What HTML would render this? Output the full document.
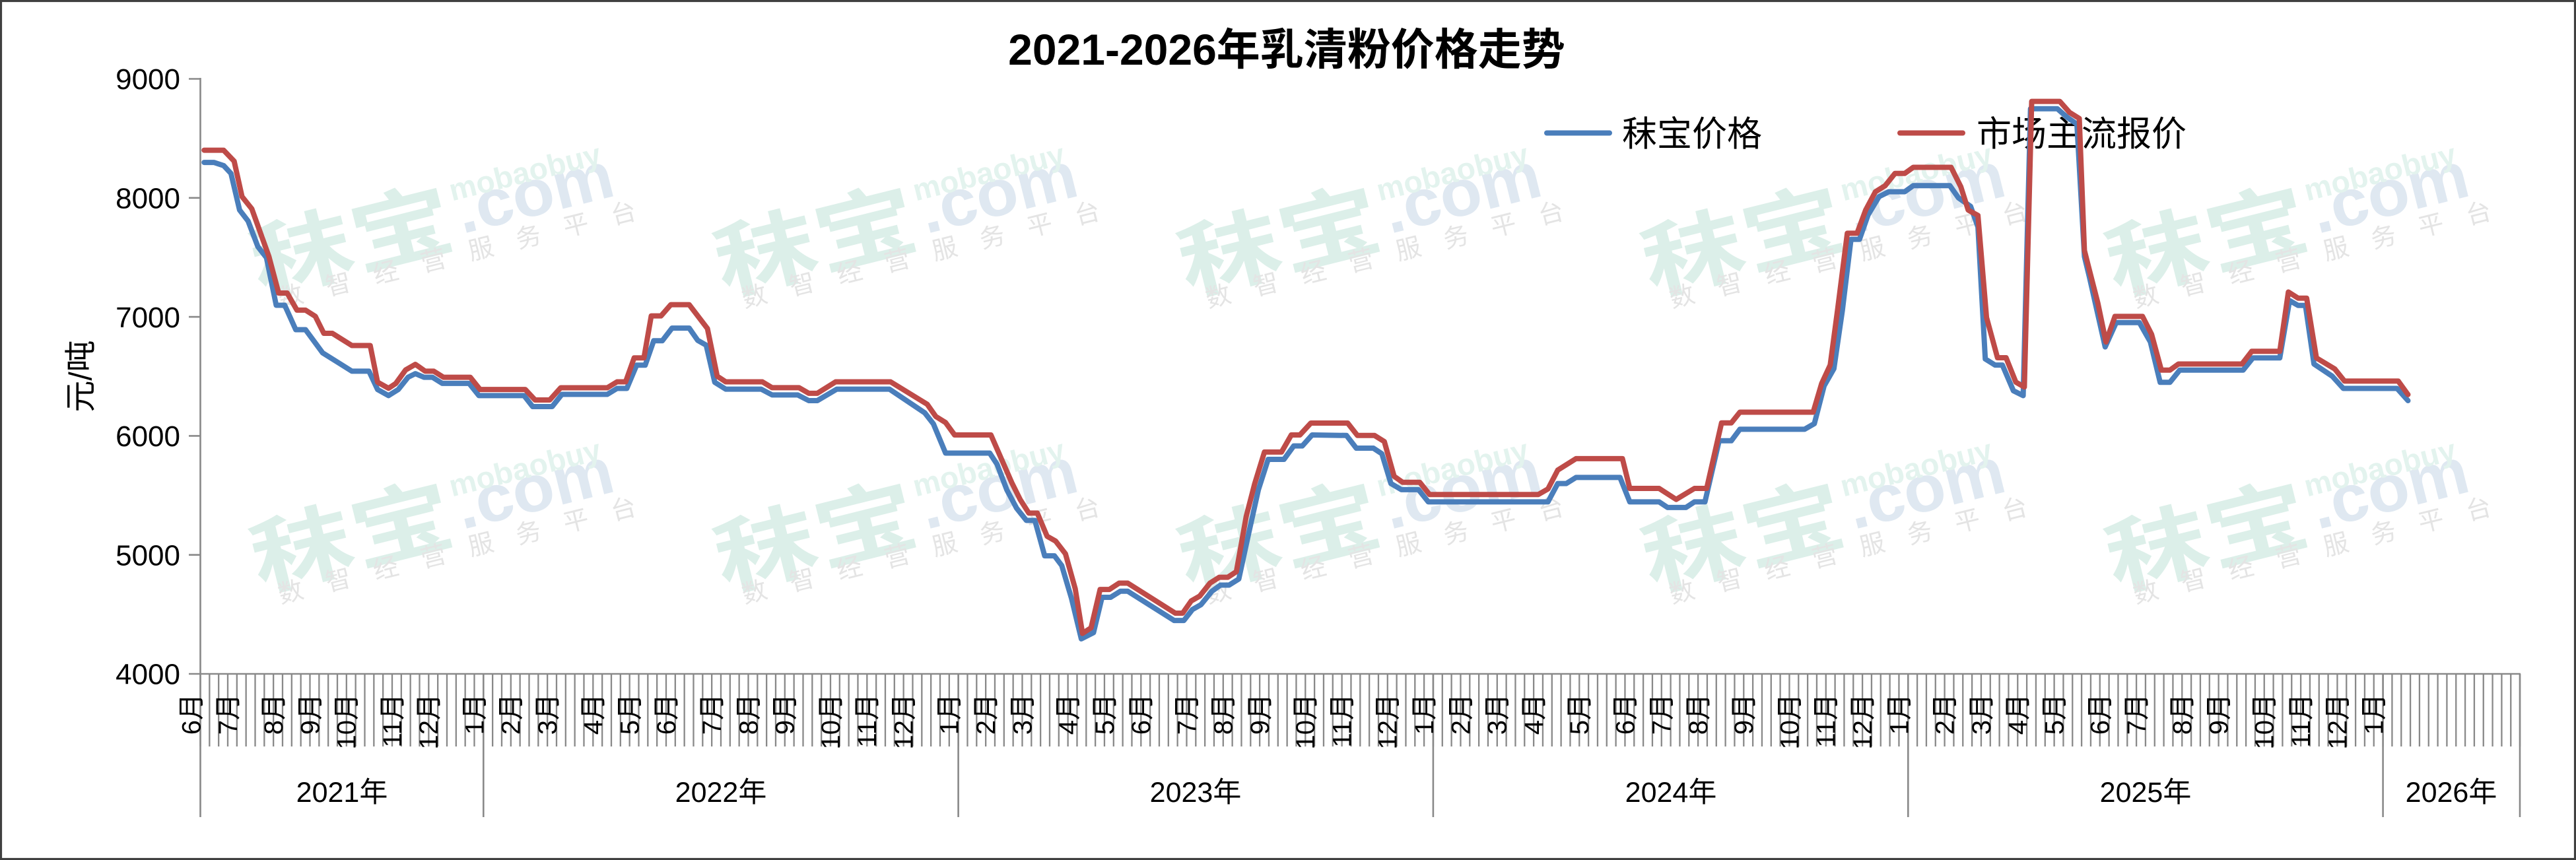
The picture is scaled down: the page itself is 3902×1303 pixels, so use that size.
<!DOCTYPE html>
<html><head><meta charset="utf-8"><style>
html,body{margin:0;padding:0;background:#fff;}
svg{display:block;}
text{font-family:"Liberation Sans","Noto Sans CJK SC",sans-serif;}
</style></head><body>
<svg xmlns="http://www.w3.org/2000/svg" width="3902" height="1303" viewBox="0 0 3902 1303">
<rect x="0" y="0" width="3902" height="1303" fill="#fff"/>

<!-- watermarks -->
<g id="wms">
<g transform="translate(513.5,370) rotate(-14)"><text x="20" y="45" font-size="125" font-weight="bold" fill="#dcefe9" text-anchor="middle" textLength="310" lengthAdjust="spacingAndGlyphs">秣宝</text><text x="185" y="30" font-size="100" font-weight="bold" fill="#dfe8f1" textLength="242" lengthAdjust="spacingAndGlyphs">.com</text><text x="182" y="-22" font-size="46" font-weight="bold" fill="#e3f3ee" textLength="235" lengthAdjust="spacingAndGlyphs">mobaobuy</text><g font-size="38" fill="#e4e4e4" text-anchor="middle"><text x="-90" y="72">数</text><text x="-15.8" y="72">智</text><text x="58.4" y="72">经</text><text x="132.6" y="72">营</text><text x="206.8" y="72">服</text><text x="281" y="72">务</text><text x="355.2" y="72">平</text><text x="429.4" y="72">台</text></g></g>
<g transform="translate(1216,370) rotate(-14)"><text x="20" y="45" font-size="125" font-weight="bold" fill="#dcefe9" text-anchor="middle" textLength="310" lengthAdjust="spacingAndGlyphs">秣宝</text><text x="185" y="30" font-size="100" font-weight="bold" fill="#dfe8f1" textLength="242" lengthAdjust="spacingAndGlyphs">.com</text><text x="182" y="-22" font-size="46" font-weight="bold" fill="#e3f3ee" textLength="235" lengthAdjust="spacingAndGlyphs">mobaobuy</text><g font-size="38" fill="#e4e4e4" text-anchor="middle"><text x="-90" y="72">数</text><text x="-15.8" y="72">智</text><text x="58.4" y="72">经</text><text x="132.6" y="72">营</text><text x="206.8" y="72">服</text><text x="281" y="72">务</text><text x="355.2" y="72">平</text><text x="429.4" y="72">台</text></g></g>
<g transform="translate(1918.5,370) rotate(-14)"><text x="20" y="45" font-size="125" font-weight="bold" fill="#dcefe9" text-anchor="middle" textLength="310" lengthAdjust="spacingAndGlyphs">秣宝</text><text x="185" y="30" font-size="100" font-weight="bold" fill="#dfe8f1" textLength="242" lengthAdjust="spacingAndGlyphs">.com</text><text x="182" y="-22" font-size="46" font-weight="bold" fill="#e3f3ee" textLength="235" lengthAdjust="spacingAndGlyphs">mobaobuy</text><g font-size="38" fill="#e4e4e4" text-anchor="middle"><text x="-90" y="72">数</text><text x="-15.8" y="72">智</text><text x="58.4" y="72">经</text><text x="132.6" y="72">营</text><text x="206.8" y="72">服</text><text x="281" y="72">务</text><text x="355.2" y="72">平</text><text x="429.4" y="72">台</text></g></g>
<g transform="translate(2621,370) rotate(-14)"><text x="20" y="45" font-size="125" font-weight="bold" fill="#dcefe9" text-anchor="middle" textLength="310" lengthAdjust="spacingAndGlyphs">秣宝</text><text x="185" y="30" font-size="100" font-weight="bold" fill="#dfe8f1" textLength="242" lengthAdjust="spacingAndGlyphs">.com</text><text x="182" y="-22" font-size="46" font-weight="bold" fill="#e3f3ee" textLength="235" lengthAdjust="spacingAndGlyphs">mobaobuy</text><g font-size="38" fill="#e4e4e4" text-anchor="middle"><text x="-90" y="72">数</text><text x="-15.8" y="72">智</text><text x="58.4" y="72">经</text><text x="132.6" y="72">营</text><text x="206.8" y="72">服</text><text x="281" y="72">务</text><text x="355.2" y="72">平</text><text x="429.4" y="72">台</text></g></g>
<g transform="translate(3323.5,370) rotate(-14)"><text x="20" y="45" font-size="125" font-weight="bold" fill="#dcefe9" text-anchor="middle" textLength="310" lengthAdjust="spacingAndGlyphs">秣宝</text><text x="185" y="30" font-size="100" font-weight="bold" fill="#dfe8f1" textLength="242" lengthAdjust="spacingAndGlyphs">.com</text><text x="182" y="-22" font-size="46" font-weight="bold" fill="#e3f3ee" textLength="235" lengthAdjust="spacingAndGlyphs">mobaobuy</text><g font-size="38" fill="#e4e4e4" text-anchor="middle"><text x="-90" y="72">数</text><text x="-15.8" y="72">智</text><text x="58.4" y="72">经</text><text x="132.6" y="72">营</text><text x="206.8" y="72">服</text><text x="281" y="72">务</text><text x="355.2" y="72">平</text><text x="429.4" y="72">台</text></g></g>
<g transform="translate(513.5,818) rotate(-14)"><text x="20" y="45" font-size="125" font-weight="bold" fill="#dcefe9" text-anchor="middle" textLength="310" lengthAdjust="spacingAndGlyphs">秣宝</text><text x="185" y="30" font-size="100" font-weight="bold" fill="#dfe8f1" textLength="242" lengthAdjust="spacingAndGlyphs">.com</text><text x="182" y="-22" font-size="46" font-weight="bold" fill="#e3f3ee" textLength="235" lengthAdjust="spacingAndGlyphs">mobaobuy</text><g font-size="38" fill="#e4e4e4" text-anchor="middle"><text x="-90" y="72">数</text><text x="-15.8" y="72">智</text><text x="58.4" y="72">经</text><text x="132.6" y="72">营</text><text x="206.8" y="72">服</text><text x="281" y="72">务</text><text x="355.2" y="72">平</text><text x="429.4" y="72">台</text></g></g>
<g transform="translate(1216,818) rotate(-14)"><text x="20" y="45" font-size="125" font-weight="bold" fill="#dcefe9" text-anchor="middle" textLength="310" lengthAdjust="spacingAndGlyphs">秣宝</text><text x="185" y="30" font-size="100" font-weight="bold" fill="#dfe8f1" textLength="242" lengthAdjust="spacingAndGlyphs">.com</text><text x="182" y="-22" font-size="46" font-weight="bold" fill="#e3f3ee" textLength="235" lengthAdjust="spacingAndGlyphs">mobaobuy</text><g font-size="38" fill="#e4e4e4" text-anchor="middle"><text x="-90" y="72">数</text><text x="-15.8" y="72">智</text><text x="58.4" y="72">经</text><text x="132.6" y="72">营</text><text x="206.8" y="72">服</text><text x="281" y="72">务</text><text x="355.2" y="72">平</text><text x="429.4" y="72">台</text></g></g>
<g transform="translate(1918.5,818) rotate(-14)"><text x="20" y="45" font-size="125" font-weight="bold" fill="#dcefe9" text-anchor="middle" textLength="310" lengthAdjust="spacingAndGlyphs">秣宝</text><text x="185" y="30" font-size="100" font-weight="bold" fill="#dfe8f1" textLength="242" lengthAdjust="spacingAndGlyphs">.com</text><text x="182" y="-22" font-size="46" font-weight="bold" fill="#e3f3ee" textLength="235" lengthAdjust="spacingAndGlyphs">mobaobuy</text><g font-size="38" fill="#e4e4e4" text-anchor="middle"><text x="-90" y="72">数</text><text x="-15.8" y="72">智</text><text x="58.4" y="72">经</text><text x="132.6" y="72">营</text><text x="206.8" y="72">服</text><text x="281" y="72">务</text><text x="355.2" y="72">平</text><text x="429.4" y="72">台</text></g></g>
<g transform="translate(2621,818) rotate(-14)"><text x="20" y="45" font-size="125" font-weight="bold" fill="#dcefe9" text-anchor="middle" textLength="310" lengthAdjust="spacingAndGlyphs">秣宝</text><text x="185" y="30" font-size="100" font-weight="bold" fill="#dfe8f1" textLength="242" lengthAdjust="spacingAndGlyphs">.com</text><text x="182" y="-22" font-size="46" font-weight="bold" fill="#e3f3ee" textLength="235" lengthAdjust="spacingAndGlyphs">mobaobuy</text><g font-size="38" fill="#e4e4e4" text-anchor="middle"><text x="-90" y="72">数</text><text x="-15.8" y="72">智</text><text x="58.4" y="72">经</text><text x="132.6" y="72">营</text><text x="206.8" y="72">服</text><text x="281" y="72">务</text><text x="355.2" y="72">平</text><text x="429.4" y="72">台</text></g></g>
<g transform="translate(3323.5,818) rotate(-14)"><text x="20" y="45" font-size="125" font-weight="bold" fill="#dcefe9" text-anchor="middle" textLength="310" lengthAdjust="spacingAndGlyphs">秣宝</text><text x="185" y="30" font-size="100" font-weight="bold" fill="#dfe8f1" textLength="242" lengthAdjust="spacingAndGlyphs">.com</text><text x="182" y="-22" font-size="46" font-weight="bold" fill="#e3f3ee" textLength="235" lengthAdjust="spacingAndGlyphs">mobaobuy</text><g font-size="38" fill="#e4e4e4" text-anchor="middle"><text x="-90" y="72">数</text><text x="-15.8" y="72">智</text><text x="58.4" y="72">经</text><text x="132.6" y="72">营</text><text x="206.8" y="72">服</text><text x="281" y="72">务</text><text x="355.2" y="72">平</text><text x="429.4" y="72">台</text></g></g>
</g>

<!-- title -->
<text x="1949" y="98" font-size="66" font-weight="bold" text-anchor="middle" fill="#000">2021-2026年乳清粉价格走势</text>

<!-- legend -->
<line x1="2343" y1="201.5" x2="2438" y2="201.5" stroke="#4a7ebb" stroke-width="8" stroke-linecap="round"/>
<text x="2457" y="221" font-size="53" fill="#000">秣宝价格</text>
<line x1="2878" y1="201.5" x2="2973" y2="201.5" stroke="#be4b48" stroke-width="8" stroke-linecap="round"/>
<text x="2994" y="221" font-size="53" fill="#000">市场主流报价</text>

<!-- y axis title -->
<text transform="translate(121,570) rotate(-90)" text-anchor="middle" dy="0.36em" font-size="48" fill="#000">元/吨</text>

<!-- y axis labels -->
<g font-size="44" text-anchor="end" fill="#000">
<text x="273" y="135.2">9000</text>
<text x="273" y="315.5">8000</text>
<text x="273" y="495.8">7000</text>
<text x="273" y="676.1">6000</text>
<text x="273" y="856.4">5000</text>
<text x="273" y="1036.7">4000</text>
</g>

<!-- axes -->
<g stroke="#898989" stroke-width="2.6" fill="none">
<line x1="303.5" y1="118" x2="303.5" y2="1238"/>
<line x1="286" y1="119.5" x2="303.5" y2="119.5"/>
<line x1="286" y1="299.8" x2="303.5" y2="299.8"/>
<line x1="286" y1="480.1" x2="303.5" y2="480.1"/>
<line x1="286" y1="660.4" x2="303.5" y2="660.4"/>
<line x1="286" y1="840.7" x2="303.5" y2="840.7"/>
<line x1="286" y1="1021" x2="3818" y2="1021"/>
<line x1="732.3" y1="1021" x2="732.3" y2="1238"/>
<line x1="1451.6" y1="1021" x2="1451.6" y2="1238"/>
<line x1="2170.9" y1="1021" x2="2170.9" y2="1238"/>
<line x1="2890.3" y1="1021" x2="2890.3" y2="1238"/>
<line x1="3609.6" y1="1021" x2="3609.6" y2="1238"/>
<line x1="3817" y1="1021" x2="3817" y2="1238"/>
</g>
<line x1="302.35" y1="1076" x2="3818.2" y2="1076" stroke="#898989" stroke-width="110" stroke-dasharray="2.3 11.533"/>

<!-- month labels -->
<g font-size="40" fill="#000" text-anchor="end">
<text transform="translate(289.5,1051) rotate(-90)" dy="0.35em">6月</text>
<text transform="translate(344.8,1051) rotate(-90)" dy="0.35em">7月</text>
<text transform="translate(414.0,1051) rotate(-90)" dy="0.35em">8月</text>
<text transform="translate(469.3,1051) rotate(-90)" dy="0.35em">9月</text>
<text transform="translate(524.7,1051) rotate(-90)" dy="0.35em">10月</text>
<text transform="translate(593.8,1051) rotate(-90)" dy="0.35em">11月</text>
<text transform="translate(649.2,1051) rotate(-90)" dy="0.35em">12月</text>
<text transform="translate(718.3,1051) rotate(-90)" dy="0.35em">1月</text>
<text transform="translate(773.7,1051) rotate(-90)" dy="0.35em">2月</text>
<text transform="translate(829.0,1051) rotate(-90)" dy="0.35em">3月</text>
<text transform="translate(898.2,1051) rotate(-90)" dy="0.35em">4月</text>
<text transform="translate(953.5,1051) rotate(-90)" dy="0.35em">5月</text>
<text transform="translate(1008.8,1051) rotate(-90)" dy="0.35em">6月</text>
<text transform="translate(1078.0,1051) rotate(-90)" dy="0.35em">7月</text>
<text transform="translate(1133.3,1051) rotate(-90)" dy="0.35em">8月</text>
<text transform="translate(1188.6,1051) rotate(-90)" dy="0.35em">9月</text>
<text transform="translate(1257.8,1051) rotate(-90)" dy="0.35em">10月</text>
<text transform="translate(1313.1,1051) rotate(-90)" dy="0.35em">11月</text>
<text transform="translate(1368.5,1051) rotate(-90)" dy="0.35em">12月</text>
<text transform="translate(1437.6,1051) rotate(-90)" dy="0.35em">1月</text>
<text transform="translate(1493.0,1051) rotate(-90)" dy="0.35em">2月</text>
<text transform="translate(1548.3,1051) rotate(-90)" dy="0.35em">3月</text>
<text transform="translate(1617.5,1051) rotate(-90)" dy="0.35em">4月</text>
<text transform="translate(1672.8,1051) rotate(-90)" dy="0.35em">5月</text>
<text transform="translate(1728.1,1051) rotate(-90)" dy="0.35em">6月</text>
<text transform="translate(1797.3,1051) rotate(-90)" dy="0.35em">7月</text>
<text transform="translate(1852.6,1051) rotate(-90)" dy="0.35em">8月</text>
<text transform="translate(1908.0,1051) rotate(-90)" dy="0.35em">9月</text>
<text transform="translate(1977.1,1051) rotate(-90)" dy="0.35em">10月</text>
<text transform="translate(2032.5,1051) rotate(-90)" dy="0.35em">11月</text>
<text transform="translate(2101.6,1051) rotate(-90)" dy="0.35em">12月</text>
<text transform="translate(2157.0,1051) rotate(-90)" dy="0.35em">1月</text>
<text transform="translate(2212.3,1051) rotate(-90)" dy="0.35em">2月</text>
<text transform="translate(2267.6,1051) rotate(-90)" dy="0.35em">3月</text>
<text transform="translate(2323.0,1051) rotate(-90)" dy="0.35em">4月</text>
<text transform="translate(2392.1,1051) rotate(-90)" dy="0.35em">5月</text>
<text transform="translate(2461.3,1051) rotate(-90)" dy="0.35em">6月</text>
<text transform="translate(2516.6,1051) rotate(-90)" dy="0.35em">7月</text>
<text transform="translate(2571.9,1051) rotate(-90)" dy="0.35em">8月</text>
<text transform="translate(2641.1,1051) rotate(-90)" dy="0.35em">9月</text>
<text transform="translate(2710.3,1051) rotate(-90)" dy="0.35em">10月</text>
<text transform="translate(2765.6,1051) rotate(-90)" dy="0.35em">11月</text>
<text transform="translate(2820.9,1051) rotate(-90)" dy="0.35em">12月</text>
<text transform="translate(2876.3,1051) rotate(-90)" dy="0.35em">1月</text>
<text transform="translate(2945.4,1051) rotate(-90)" dy="0.35em">2月</text>
<text transform="translate(3000.8,1051) rotate(-90)" dy="0.35em">3月</text>
<text transform="translate(3056.1,1051) rotate(-90)" dy="0.35em">4月</text>
<text transform="translate(3111.4,1051) rotate(-90)" dy="0.35em">5月</text>
<text transform="translate(3180.6,1051) rotate(-90)" dy="0.35em">6月</text>
<text transform="translate(3235.9,1051) rotate(-90)" dy="0.35em">7月</text>
<text transform="translate(3305.1,1051) rotate(-90)" dy="0.35em">8月</text>
<text transform="translate(3360.4,1051) rotate(-90)" dy="0.35em">9月</text>
<text transform="translate(3429.6,1051) rotate(-90)" dy="0.35em">10月</text>
<text transform="translate(3484.9,1051) rotate(-90)" dy="0.35em">11月</text>
<text transform="translate(3540.3,1051) rotate(-90)" dy="0.35em">12月</text>
<text transform="translate(3595.6,1051) rotate(-90)" dy="0.35em">1月</text>
</g>

<!-- year labels -->
<g font-size="43" fill="#000" text-anchor="middle">
<text x="518" y="1215">2021年</text>
<text x="1092" y="1215">2022年</text>
<text x="1811" y="1215">2023年</text>
<text x="2531" y="1215">2024年</text>
<text x="3250" y="1215">2025年</text>
<text x="3713" y="1215">2026年</text>
</g>

<!-- series: 秣宝价格 (blue) -->
<polyline fill="none" stroke="#4a7ebb" stroke-width="8" stroke-linejoin="round" stroke-linecap="round" points="
309.2,246.1 324,246.1 338.8,250.9 349.9,262.8 362.9,318.2 375.8,334.9 390.6,373.7 403.6,390.4 418.4,462.5 431.3,462.5
448,499.5 462.8,499.5 488.7,534.6 533,562.4 558.9,562.4 571.9,590.1 588.5,599.4 603.3,590.1 618.1,571.6 629.2,566.1
642.2,571.6 655.1,571.6 669.9,580.9 710.6,580.9 725.4,599.4 793.8,599.4 806.8,616 836.4,616 851.1,597.5 919.9,597.5
934.7,588.5 949.5,588.5 964.3,553.3 977.3,553.3 990.2,516.3 1003.2,516.3 1018,497.1 1043.9,497.1 1056.8,515.6 1069.7,523
1082.7,579.2 1099.3,589.6 1153,589.6 1169.6,598.4 1208.5,598.4 1225.1,607 1238,607 1267.6,589.6 1347.2,589.6 1400.8,625.5
1413.8,642.1 1432.3,686.5 1499.2,686.5 1510.3,703.4 1525.1,742.2 1539.9,770 1554.7,788.5 1567.6,788.5 1582.4,842.1 1597.2,842.1
1608.3,856.9 1623.1,906.8 1637.9,967.9 1656.4,958.6 1669.3,905 1682.3,905 1697.1,895.7 1708.2,895.7 1778.5,940.1 1793.3,940.1
1806.2,923.5 1819.2,916.1 1835.8,895.7 1848.7,886.5 1861.7,886.5 1876.5,877.2 1891.3,808.8 1906.1,742.2 1920.9,696 1944.9,696
1959.7,675.6 1972.7,675.6 1987.5,659 2039.6,659.8 2054.4,679 2080.3,679 2093.2,687.5 2106.9,732.6 2122.8,741.9 2148.7,741.9
2163.5,760.4 2344.8,760.4 2359.6,732.6 2372.5,732.6 2387.3,723.4 2453.9,723.4 2468.7,760.4 2513.1,760.4 2526,768.9 2553.8,768.9
2566.7,760.4 2582.6,760.4 2604,667.8 2622.5,667.8 2635.5,650.4 2733.5,650.4 2748.3,641.9 2763.1,584.6 2777.9,558.7 2790.8,469.9
2803.8,362.6 2816.7,362.6 2829.7,325.6 2846.3,297.9 2861.1,290.5 2885.2,290.5 2898.1,281.3 2953.6,281.3 2966.5,299.7 2985,312.7
2996.1,344.1 3007.2,543.9 3022,553.1 3033.1,553.1 3049.8,592 3064.6,599.4 3075.7,164.7 3116.4,164.7 3131.2,177.7 3146,188
3157.4,388.8 3165,420 3188.8,525.6 3205.5,488.7 3240.6,488.7 3257.3,518.2 3272.1,579.3 3286.9,579.3 3301.7,560.8 3397.8,560.8
3412.6,542.3 3453.3,542.3 3468.1,455.4 3481.1,462.8 3492.2,462.8 3505.1,551.5 3532.8,570 3549.5,588.5 3630.9,588.5 3647.5,607"/>

<!-- series: 市场主流报价 (red) -->
<polyline fill="none" stroke="#be4b48" stroke-width="8" stroke-linejoin="round" stroke-linecap="round" points="
309.2,227.6 338.8,227.6 354.7,244.3 366.6,297.9 381.4,316.4 407.3,388.5 422.1,444 435,444 449.8,469.9 462.8,469.9
477.6,479.2 490.5,505 503.4,505 533,523.5 560.8,523.5 571.9,579 588.5,588.3 599.6,580.9 614.4,560.5 629.2,552
644,562.4 657,562.4 671.8,571.6 712.4,571.6 727.2,590.1 795.7,590.1 810.5,606 832.7,606 849.3,587.5 919.9,587.5
934.7,578.5 947.7,578.5 960.6,542.2 975.4,542.2 986.5,478.6 1001.3,478.6 1016.1,461.6 1043.9,461.6 1071.6,497.8 1086.4,570
1099.3,578.5 1154.8,578.5 1169.6,587.4 1210.3,587.4 1225.1,595.9 1238,595.9 1265.8,578.5 1349,578.5 1404.5,612.5 1417.5,631
1432.3,640.2 1446,659 1501,659 1532.5,731.1 1545.4,757 1558.4,777.4 1571.3,777.4 1586.1,812.5 1599.1,819.9 1613.9,839.1
1628.7,892 1639.7,959.7 1652.7,951.2 1666.4,893.1 1680.4,893.1 1695.2,883.5 1708.2,883.5 1780.3,929 1791.4,929 1804.4,910.5
1817.3,903.1 1832.8,883.5 1846.9,874.6 1859.8,874.6 1872.8,866.1 1887.6,782.9 1900.5,733 1915.3,684.9 1941.2,684.9 1956,659
1969,659 1985.6,641 2041.4,641 2056.2,659.8 2082.1,659.8 2096.9,669 2111.7,721.6 2124.7,730.8 2150.6,730.8 2165.4,749.3
2330,749.3 2344.8,740.8 2359.6,712.3 2387.3,694.9 2457.6,694.9 2468.7,740 2513.1,740 2539,756.7 2566.7,740 2585.2,740
2607.7,640.8 2622.5,640.8 2635.5,624.5 2746.5,624.5 2759.4,580.9 2772.3,553.1 2783.4,469.9 2798.2,353.4 2813,353.4 2826,318.2
2840.8,290.5 2855.6,281.3 2870.4,262.8 2885.2,262.8 2898.1,253.5 2955.4,253.5 2970.2,283.1 2981.3,318.2 2996.1,326.4 3009.1,481
3025.7,542 3038.7,542 3053.5,579 3066.4,586.4 3077.5,153.6 3120.1,153.6 3134.8,170.3 3149.6,179.5 3157.4,379.5 3163,401.7
3177.7,459.1 3190,518.2 3203.6,479.4 3245.4,479.4 3259.1,506.4 3273.9,560.8 3286.9,560.8 3299.8,551.5 3396,551.5 3410.8,532.3
3453.3,532.3 3466.3,442.4 3481.1,451.7 3494,451.7 3508.8,542.3 3536.5,558.9 3551.3,577.4 3632.7,577.4 3647.5,597.8"/>

<!-- outer border -->
<rect x="1.5" y="1.5" width="3899" height="1300" fill="none" stroke="#404040" stroke-width="3.2"/>
</svg>
</body></html>
